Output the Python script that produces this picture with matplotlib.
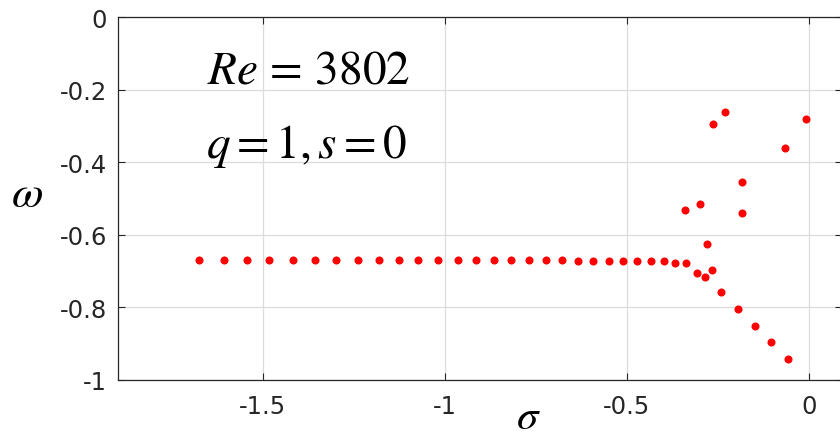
import matplotlib
matplotlib.use('Agg')
import matplotlib.pyplot as plt
from matplotlib.ticker import FuncFormatter

# eigenvalue spectrum, sigma (growth) vs omega (frequency)
sigma_branch = [-1.676, -1.607, -1.543, -1.482, -1.418, -1.356, -1.299, -1.239,
                -1.181, -1.126, -1.073, -1.019, -0.965, -0.915, -0.865, -0.819,
                -0.769, -0.722, -0.679, -0.635, -0.592, -0.549, -0.510, -0.471,
                -0.435, -0.399, -0.369, -0.338]
omega_branch = [-0.669] * 19 + [-0.673] * 7 + [-0.679] * 2

sigma_split = [-0.306, -0.284, -0.266, -0.280, -0.241, -0.194, -0.149, -0.105, -0.058]
omega_split = [-0.704, -0.716, -0.698, -0.626, -0.758, -0.805, -0.852, -0.896, -0.943]

sigma_upper = [-0.341, -0.299, -0.184, -0.184, -0.263, -0.230, -0.065, -0.007]
omega_upper = [-0.533, -0.514, -0.454, -0.540, -0.295, -0.263, -0.360, -0.280]

x_ticks = [-1.5, -1.0, -0.5, 0.0]
y_ticks = [-1.0, -0.8, -0.6, -0.4, -0.2, 0.0]

plt.rcParams['axes.unicode_minus'] = False
plt.rcParams['mathtext.fontset'] = 'stix'

fig = plt.figure(figsize=(8.4, 4.39), dpi=100)
W, H = 840, 439
ax = fig.add_axes([118 / W, 58 / H, 724 / W, 363 / H])

for xs, ys in [(sigma_branch, omega_branch), (sigma_split, omega_split),
               (sigma_upper, omega_upper)]:
    ax.plot(xs, ys, 'o', color='red', markersize=5.8, markeredgewidth=0)

ax.set_xlim(-1.898, 0.091)
ax.set_ylim(-1, 0)
ax.set_xticks(x_ticks)
ax.set_yticks(y_ticks)
fmt = FuncFormatter(lambda v, p: '%g' % v)
ax.xaxis.set_major_formatter(fmt)
ax.yaxis.set_major_formatter(fmt)
ax.grid(True, color='#dcdcdc', linewidth=0.9)
ax.set_axisbelow(True)
ax.tick_params(direction='in', length=5, width=0.8, colors='#262626',
               labelsize=17.5, top=True, right=True, pad=10)
ax.tick_params(axis='y', pad=8)
for sp in ax.spines.values():
    sp.set_color('#262626')
    sp.set_linewidth(0.9)

fig.text(207 / W, 1 - 83 / H, r'$Re\,=\,3802$', fontsize=34, ha='left',
         va='baseline', color='black')
fig.text(206 / W, 1 - 158 / H, r'$q = 1, s = 0$', fontsize=34, ha='left',
         va='baseline', color='black')
fig.text(27 / W, 1 - 195 / H, r'$\omega$', fontsize=33, ha='center', va='center')
fig.text(528 / W, 1 - 429 / H, r'$\sigma$', fontsize=31, ha='center', va='baseline')

fig.savefig('out.png', dpi=100, facecolor='white')
